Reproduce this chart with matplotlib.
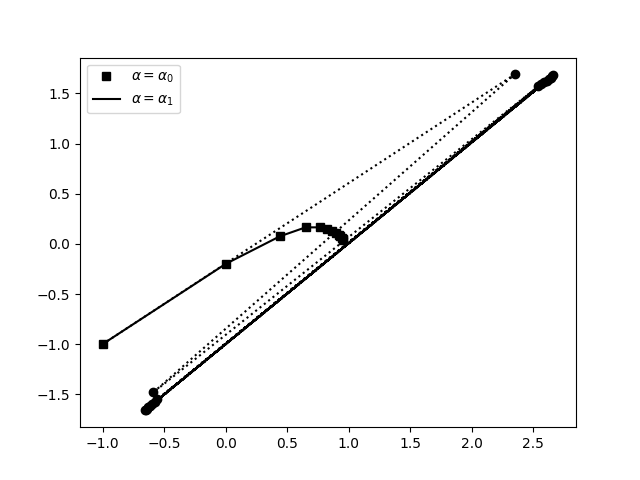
import numpy as np
import matplotlib
matplotlib.use('Agg')
import matplotlib.pyplot as plt

# iterates (squares + solid line)
sq_x = [-1.0, 0.0, 0.44, 0.65, 0.765, 0.825, 0.865, 0.895, 0.918, 0.934, 0.945, 0.952, 0.956]
sq_y = [-1.0, -0.2, 0.075, 0.165, 0.165, 0.148, 0.128, 0.108, 0.090, 0.074, 0.060, 0.050, 0.043]

# circles, upper right and lower left (visited alternately)
top_x = [2.35, 2.54, 2.565, 2.59, 2.61, 2.63, 2.645, 2.657, 2.665]
top_y = [1.69, 1.57, 1.59, 1.61, 1.628, 1.645, 1.658, 1.670, 1.680]
bot_x = [-0.587, -0.554, -0.575, -0.595, -0.612, -0.627, -0.639, -0.648, -0.655]
bot_y = [-1.48, -1.55, -1.575, -1.597, -1.615, -1.630, -1.643, -1.653, -1.660]

# zig-zag path: first iterate -> top0 -> bot0 -> top1 -> bot1 ...
path_x = [sq_x[0]]
path_y = [sq_y[0]]
for tx, ty, bx, by in zip(top_x, top_y, bot_x, bot_y):
    path_x += [tx, bx]
    path_y += [ty, by]

fig, ax = plt.subplots(figsize=(6.4, 4.8), dpi=100)
ax.plot(path_x, path_y, 'k:')
ax.plot(top_x, top_y, 'ko')
ax.plot(bot_x, bot_y, 'ko')
ax.plot(sq_x, sq_y, 'ks', label=r'$\alpha=\alpha_0$')
ax.plot(sq_x, sq_y, 'k-', label=r'$\alpha=\alpha_1$')
ax.legend(loc='upper left')

fig.savefig('out.png')
